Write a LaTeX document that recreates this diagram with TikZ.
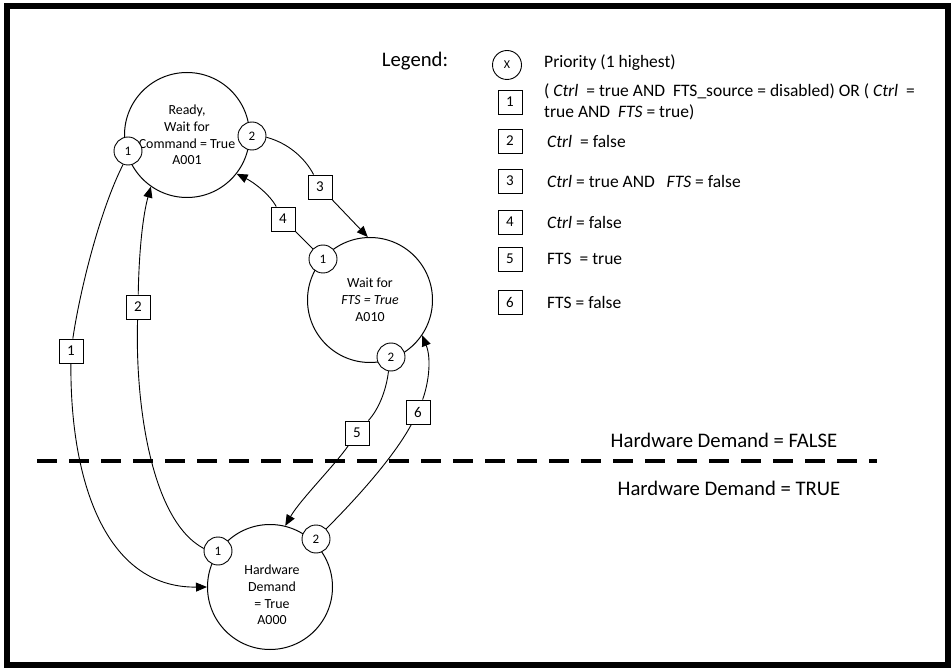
\documentclass[tikz,border=0pt]{standalone}
\usepackage{fontspec}
\setmainfont{Carlito}
\usetikzlibrary{arrows.meta}

\tikzset{
  state/.style={circle, draw, line width=1pt, minimum size=125pt, inner sep=0pt, align=center, font=\fontsize{13.9}{16.8}\selectfont},
  statetext/.style={align=center, inner sep=0pt, font=\fontsize{13.9}{16.8}\selectfont},
  prio/.style={circle, draw, fill=white, line width=0.9pt, minimum size=28pt, inner sep=0pt, font=\fontsize{13}{15}\selectfont},
  cond/.style={draw, fill=white, line width=0.9pt, minimum size=24pt, inner sep=0pt, font=\fontsize{15}{17}\selectfont},
  trans/.style={line width=0.9pt},
  arr/.style={trans, -{Triangle[length=11pt,width=9pt]}},
  legtext/.style={anchor=west, align=left, inner sep=0pt, font=\fontsize{17.5}{21}\selectfont},
  bigtext/.style={inner sep=0pt, font=\fontsize{20.7}{25}\selectfont}
}

\begin{document}
\begin{tikzpicture}[x=1pt, y=-1pt]
    \useasboundingbox (0,0) rectangle (951,668);
    \draw[line width=6pt] (7,6) rectangle (948,665);

    % hardware demand boundary
    \coordinate (hdw) at (37,461);
    \coordinate (hde) at (877,461);
    \draw[line width=3.5pt, dash pattern=on 20pt off 12pt] (hdw) -- (hde);
    \node[bigtext] (hdfalse) at (724,440) {Hardware Demand = FALSE};
    \node[bigtext] (hdtrue) at (729,488) {Hardware Demand = TRUE};

    % states
    \node[state] (A001) at (187,135) {Ready,\\Wait for\\Command = True\\A001};
    \node[state] (A010) at (370,300) {Wait for\\\textit{FTS = True}\\A010};
    \node[state, label={[statetext, xshift=2pt, yshift=-8pt]center:{Hardware\\Demand\\= True\\A000}}] (A000) at (270,587) {};

    % priorities
    \node[prio] (p11) at (128,151) {1};
    \node[prio] (p12) at (252,136) {2};
    \node[prio] (p21) at (323,259) {1};
    \node[prio] (p22) at (391,357) {2};
    \node[prio] (p01) at (218,551) {1};
    \node[prio] (p02) at (316,539) {2};

    % conditions
    \node[cond] (b1) at (71,351) {1};
    \node[cond] (b2) at (138,307) {2};
    \node[cond] (b3) at (320,187) {3};
    \node[cond] (b4) at (283,219) {4};
    \node[cond] (b5) at (357,433) {5};
    \node[cond] (b6) at (418,412) {6};

    % transitions
    \draw[trans] (p11.250) .. controls (100,210) and (80,290) .. (b1);
    \draw[arr] (b1) .. controls (70,480) and (105,588) .. (A000.180);
    \draw[trans] (p01.170) .. controls (150,520) and (135,400) .. (b2);
    \draw[arr] (b2) .. controls (139,250) and (143,215) .. (A001.235);
    \draw[trans] (p12.-5) .. controls (288,143) and (305,158) .. (b3);
    \draw[arr] (b3) -- (A010.92);
    \draw[trans] (p21) -- (b4);
    \draw[arr] (b4) .. controls (270,195) and (255,183) .. (A001.-38);
    \draw[trans] (p22.260) .. controls (386,392) and (378,410) .. (b5);
    \draw[arr] (b5) .. controls (335,465) and (300,500) .. (A000.76);
    \draw[trans] (p02.45) .. controls (360,495) and (395,455) .. (b6);
    \draw[arr] (b6) .. controls (428,385) and (432,360) .. (A010.-34);

    % legend
    \node[bigtext] (legend) at (415,61) {Legend:};
    \node[prio, minimum size=29pt, font=\fontsize{12}{14}\selectfont] (lx) at (507,65) {X};
    \node[legtext] (tx) at (544,63) {Priority (1 highest)};
    \node[cond] (l1) at (510,102) {1};
    \node[legtext] (t1) at (544,102) {( \textit{Ctrl}\ \ = true AND\ \ FTS\_source = disabled) OR ( \textit{Ctrl}\ \ =\\true AND\ \ \textit{FTS} = true)};
    \foreach \n/\y/\txt in {2/141/{\textit{Ctrl}\ \ = false},
                            3/181/{\textit{Ctrl} = true AND\ \ \ \textit{FTS} = false},
                            4/222/{\textit{Ctrl} = false},
                            5/259/{FTS\ \ = true},
                            6/302/{FTS = false}}{
        \node[cond] (l\n) at (510,\y) {\n};
        \node[legtext] (t\n) at (547,\y) {\txt};
    }
\end{tikzpicture}
\end{document}
